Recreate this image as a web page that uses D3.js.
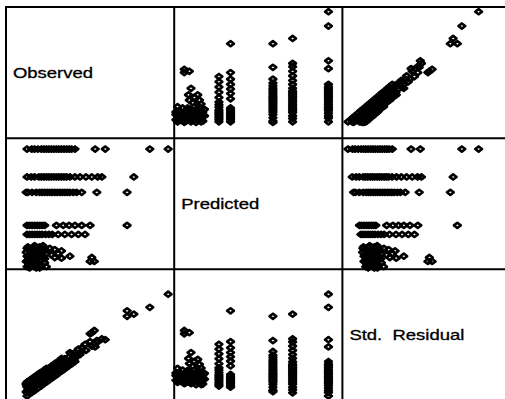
<!DOCTYPE html>
<html>
<head>
<meta charset="utf-8">
<script src="https://cdn.jsdelivr.net/npm/d3@7"></script>
<style>
  body { margin: 0; background: #fff; }
  svg { display: block; }
</style>
</head>
<body>
<svg id="chart" width="505" height="399"></svg>
<script>
// Variables of the scatterplot matrix, in row/column order
const variableNames = ["Observed", "Predicted", "Std.  Residual"];

// One entry per case: observed value, predicted value, standardized residual
const observed = [
  // predicted level 91.7
  96.4, 85.5, 59, 53, 41, 39, 37.5, 36, 34.5, 33, 31.5,
  30, 28.5, 27, 25.5, 24, 22.5, 21, 19, 17, 15.3, 12.5,
  // predicted level 70.4
  76, 57, 54.5, 51, 47.5, 44, 41, 38, 36, 34.5, 33, 31.5,
  30, 28.5, 27, 25.5, 24, 22.5, 21, 19.5, 17, 15, 12.5,
  // predicted level 58.7
  72, 54, 45, 42, 40, 38, 36.5, 35, 33.5, 32, 30.5,
  29, 27.5, 26, 24.5, 23, 21.5, 20, 18, 15.5, 13, 12,
  // predicted level 33.5
  72, 50, 45, 41, 37.5, 34, 30, 23,
  21.5, 20, 18.5, 17, 15.5, 14, 12.5,
  // predicted level 26.6
  47, 43, 39, 35, 31, 27.5, 25.5, 23.5,
  21.5, 20, 18.5, 17, 15.5, 14, 12.5,
  // low predicted values
  52.5, 50, 51, 38, 33, 33, 31, 29, 29, 27, 26,
  24, 23, 22, 24, 21, 22,
  20, 19, 20, 19, 18, 20,
  17, 16, 17, 16, 15, 17,
  14, 13.5, 14, 13.5, 14, 13,
  12.5, 12, 12.5, 12, 15.5, 18.5,
  23, 21, 18, 15, 13,
  22, 19, 16, 14.5, 12.5,
  21, 19, 17, 15, 13,
  23, 18, 14, 16, 20
];

const predicted = [
  91.7, 91.7, 91.7, 91.7, 91.7, 91.7, 91.7, 91.7, 91.7, 91.7, 91.7,
  91.7, 91.7, 91.7, 91.7, 91.7, 91.7, 91.7, 91.7, 91.7, 91.7, 91.7,
  70.4, 70.4, 70.4, 70.4, 70.4, 70.4, 70.4, 70.4, 70.4, 70.4, 70.4, 70.4,
  70.4, 70.4, 70.4, 70.4, 70.4, 70.4, 70.4, 70.4, 70.4, 70.4, 70.4,
  58.7, 58.7, 58.7, 58.7, 58.7, 58.7, 58.7, 58.7, 58.7, 58.7, 58.7,
  58.7, 58.7, 58.7, 58.7, 58.7, 58.7, 58.7, 58.7, 58.7, 58.7, 58.7,
  33.5, 33.5, 33.5, 33.5, 33.5, 33.5, 33.5, 33.5,
  33.5, 33.5, 33.5, 33.5, 33.5, 33.5, 33.5,
  26.6, 26.6, 26.6, 26.6, 26.6, 26.6, 26.6, 26.6,
  26.6, 26.6, 26.6, 26.6, 26.6, 26.6, 26.6,
  6, 6, 9, 10, 8.5, 14, 12, 15, 9, 11, 16,
  2, 5, 9, 12, 15, 18,
  1, 4, 7, 11, 14, 17,
  2, 6, 9, 12, 16, 18,
  1, 4, 8, 11, 14, 17,
  2, 6, 10, 13, 3, 8,
  16, 3, 1, 9, 7,
  13, 16, 3, 12, 16,
  10, 13, 5, 13, 2,
  8, 17, 5, 15, 4
];

const stdResidual = [
  2.86, 2.26, 0.78, 0.45, -0.22, -0.33, -0.41, -0.49, -0.58, -0.66, -0.74,
  -0.83, -0.91, -0.99, -1.08, -1.16, -1.24, -1.33, -1.44, -1.55, -1.64, -1.80,
  1.95, 0.82, 0.68, 0.49, 0.29, 0.10, -0.07, -0.23, -0.35, -0.43, -0.51, -0.60,
  -0.68, -0.76, -0.85, -0.93, -1.01, -1.10, -1.18, -1.26, -1.40, -1.51, -1.65,
  1.85, 0.74, 0.24, 0.07, -0.04, -0.15, -0.24, -0.32, -0.40, -0.49, -0.57,
  -0.65, -0.74, -0.82, -0.90, -0.99, -1.07, -1.15, -1.26, -1.40, -1.54, -1.60,
  2.10, 0.69, 0.41, 0.19, 0.00, -0.20, -0.42, -0.81,
  -0.89, -0.97, -1.06, -1.14, -1.22, -1.31, -1.39,
  0.57, 0.35, 0.13, -0.09, -0.32, -0.51, -0.62, -0.73,
  -0.84, -0.93, -1.01, -1.09, -1.18, -1.26, -1.34,
  1.20, 1.05, 1.10, 0.19, -0.08, -0.12, -0.21, -0.35, -0.31, -0.43, -0.52,
  -0.53, -0.61, -0.69, -0.60, -0.79, -0.76,
  -0.75, -0.82, -0.79, -0.87, -0.95, -0.86,
  -0.92, -1.00, -0.97, -1.05, -1.13, -1.03,
  -1.08, -1.13, -1.13, -1.18, -1.17, -1.25,
  -1.17, -1.23, -1.23, -1.28, -1.01, -0.88,
  -0.69, -0.71, -0.86, -1.08, -1.18,
  -0.72, -0.91, -0.98, -1.13, -1.27,
  -0.75, -0.89, -0.94, -1.11, -1.14,
  -0.63, -0.97, -1.11, -1.07, -0.77
];

// Value extents shown in each panel
const domains = [[0, 100], [0, 100], [-2, 4]];

const columns = [observed, predicted, stdResidual];

// Panel geometry
const panelLeft = 6, panelTop = 7, cellW = 168.2, cellH = 131.15;

const svg = d3.select("#chart");

const xScales = domains.map((d, j) =>
  d3.scaleLinear().domain(d).range([panelLeft + j * cellW, panelLeft + (j + 1) * cellW]));
const yScales = domains.map((d, i) =>
  d3.scaleLinear().domain(d).range([panelTop + (i + 1) * cellH, panelTop + i * cellH]));

// Points in every off-diagonal panel
const diamond = "M-3.4,0L0,-2.6L3.4,0L0,2.6Z";
const cases = d3.range(observed.length);

for (let i = 0; i < 3; i++) {
  for (let j = 0; j < 3; j++) {
    if (i === j) continue;
    svg.append("g")
      .selectAll("path")
      .data(cases)
      .join("path")
      .attr("d", diamond)
      .attr("transform", k => `translate(${xScales[j](columns[j][k])},${yScales[i](columns[i][k])})`)
      .attr("fill", "none")
      .attr("stroke", "#000")
      .attr("stroke-width", 2.6)
      .attr("stroke-linejoin", "round");
  }
}

// Variable names on the diagonal
variableNames.forEach((name, i) => {
  const x0 = panelLeft + i * cellW + 7;
  const yMid = panelTop + (i + 0.5) * cellH + 5;
  svg.append("text")
    .attr("transform", `translate(${x0},${yMid}) scale(1.32,1)`)
    .style("white-space", "pre")
    .attr("font-family", "'Liberation Sans', Arial, sans-serif")
    .attr("font-size", 14)
    .attr("fill", "#000")
    .attr("stroke", "#000")
    .attr("stroke-width", 0.3)
    .text(name);
});

// Panel frame lines
const grid = svg.append("g").attr("stroke", "#000").attr("stroke-width", 2);
for (let j = 0; j <= 3; j++) {
  const x = panelLeft + j * cellW;
  grid.append("line").attr("x1", x).attr("x2", x).attr("y1", panelTop - 1).attr("y2", panelTop + 3 * cellH);
}
for (let i = 0; i <= 3; i++) {
  const y = panelTop + i * cellH;
  grid.append("line").attr("x1", panelLeft - 1).attr("x2", panelLeft + 3 * cellW).attr("y1", y).attr("y2", y);
}
</script>
</body>
</html>
